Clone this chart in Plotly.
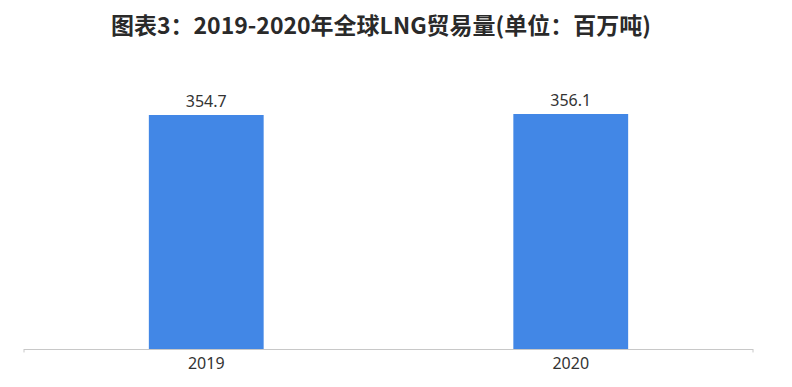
import plotly.graph_objects as go

years = ["2019", "2020"]
values = [354.7, 356.1]
labels = ["354.7", "356.1"]

# page body has an 8px default margin, so the figure is sized to fit the
# remaining window area; figure coordinates = screen - 8
W, H = 784, 379
ml, mr, mt, mb = 16, 39, 52, 38

fig = go.Figure()
fig.add_trace(go.Bar(
    x=years, y=values, text=labels, textposition="outside",
    marker=dict(color="#4287E6", line=dict(width=0)),
    textfont=dict(size=16, color="#333333", family="Noto Sans, Arial"),
    cliponaxis=False,
))

fig.update_layout(
    width=W, height=H,
    margin=dict(l=ml, r=mr, t=mt, b=mb),
    paper_bgcolor="white", plot_bgcolor="white",
    bargap=0.685,
    showlegend=False,
    title=dict(text="<b>图表3：2019-2020年全球LNG贸易量(单位：百万吨)</b>",
               x=(381 - 8) / W, xanchor="center", y=1 - 17.5 / H, yanchor="middle",
               xref="container", yref="container",
               font=dict(size=23, color="#2a2a2a", family="Noto Sans CJK SC")),
    xaxis=dict(showline=True, linecolor="#c8c8c8", linewidth=1,
               ticks="", tickfont=dict(size=16, color="#333333", family="Noto Sans, Arial"),
               showgrid=False, zeroline=False),
    yaxis=dict(range=[0, 438], visible=False, showgrid=False, zeroline=False),
    font=dict(family="Noto Sans CJK SC"),
)
# small end ticks on the axis line
for xp in (0, 1):
    fig.add_shape(type="line", xref="paper", yref="paper", x0=xp, x1=xp,
                  y0=0, y1=-0.012, line=dict(color="#c8c8c8", width=1))

fig.write_html("out.html")
